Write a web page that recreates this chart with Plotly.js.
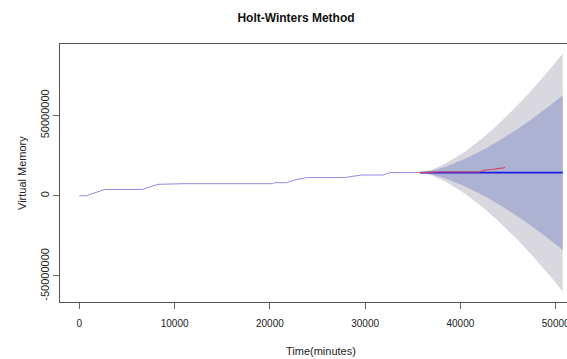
<!DOCTYPE html>
<html>
<head>
<meta charset="utf-8">
<script src="https://cdn.plot.ly/plotly-3.0.1.min.js"></script>
<style>
  html, body { margin: 0; padding: 0; overflow: hidden; background: #fff; }
  #chart { width: 600px; height: 359px; }
</style>
</head>
<body>
<div id="chart"></div>
<script>
// Observed series (minutes, bytes of virtual memory)
const histX = [0, 740, 2660, 6620, 8260, 11060, 20300, 20500, 21740, 22610, 23840, 27860, 29620, 31890, 32590, 35740];
const histY = [0, 0, 3.9e6, 3.9e6, 7.1e6, 7.5e6, 7.5e6, 8.1e6, 8.1e6, 9.8e6, 11.3e6, 11.3e6, 12.9e6, 12.9e6, 14.4e6, 14.4e6];

// Holt-Winters forecast horizon with 80% and 95% intervals
const fcX    = [35740, 37000, 38500, 40500, 42500, 44000, 46000, 47500, 49500, 50740];
const fcMean = [14.4e6, 14.4e6, 14.4e6, 14.4e6, 14.4e6, 14.4e6, 14.4e6, 14.4e6, 14.4e6, 14.4e6];
const hi95   = [14.4e6, 16.2e6, 20.2e6, 27.6e6, 36.8e6, 44.7e6, 56.3e6, 65.8e6, 79.5e6, 88.5e6];
const lo95   = [14.4e6, 12.6e6, 8.6e6, 1.2e6, -8.0e6, -15.9e6, -27.5e6, -37.0e6, -50.7e6, -59.7e6];
const hi80   = [14.4e6, 15.6e6, 18.2e6, 23.0e6, 29.0e6, 34.1e6, 41.6e6, 47.8e6, 56.7e6, 62.6e6];
const lo80   = [14.4e6, 13.2e6, 10.6e6, 5.8e6, -0.2e6, -5.3e6, -12.8e6, -19.0e6, -27.9e6, -33.8e6];

// Actual values over the forecast period
const actX = [35740, 37840, 42040, 42570, 43440, 43970, 44670];
const actY = [14.4e6, 14.8e6, 14.8e6, 16.0e6, 16.5e6, 17.1e6, 17.5e6];

// Axis ticks
const xTicks = [0, 10000, 20000, 30000, 40000, 50000];
const xTickText = ["0", "10000", "20000", "30000", "40000", "50000"];
const yTicks = [-5e7, 0, 5e7];
const yTickText = ["-50000000", "0", "50000000"];

const FONT = '"Liberation Sans", Arial, sans-serif';

function band(x, hi, lo) {
  return {
    x: x.concat(x.slice().reverse()),
    y: hi.concat(lo.slice().reverse())
  };
}

const b95 = band(fcX, hi95, lo95);
const b80 = band(fcX, hi80, lo80);

const traces = [
  { x: b95.x, y: b95.y, type: 'scatter', mode: 'lines', fill: 'toself',
    fillcolor: '#d8d8de', line: { width: 0 }, hoverinfo: 'skip' },
  { x: b80.x, y: b80.y, type: 'scatter', mode: 'lines', fill: 'toself',
    fillcolor: '#adb2d2', line: { width: 0 }, hoverinfo: 'skip' },
  { x: histX, y: histY, type: 'scatter', mode: 'lines',
    line: { color: '#8c8cde', width: 1 } },
  { x: fcX, y: fcMean, type: 'scatter', mode: 'lines',
    line: { color: '#1a1ae6', width: 1.8 } },
  { x: actX, y: actY, type: 'scatter', mode: 'lines',
    line: { color: '#d2405c', width: 1.1 } }
];

const plotL = 60, plotR = 582;
const layout = {
  width: 600, height: 359,
  margin: { l: plotL, r: 600 - plotR, t: 44, b: 57 },
  paper_bgcolor: '#fff', plot_bgcolor: '#fff',
  showlegend: false,
  font: { family: FONT, color: '#222', size: 11 },
  title: {
    text: '<b>Holt-Winters Method</b>',
    font: { family: FONT, size: 12, color: '#111' },
    xref: 'container', x: 296 / 600, xanchor: 'center',
    yref: 'container', y: 1 - 18 / 359, yanchor: 'middle'
  },
  xaxis: {
    range: [-2029, 52764],
    tickvals: xTicks, ticktext: xTickText,
    ticks: 'outside', ticklen: 6, tickcolor: '#666', tickwidth: 1,
    ticklabelstandoff: 6,
    showline: true, linecolor: '#555', linewidth: 1, mirror: true,
    showgrid: false, zeroline: false,
    tickfont: { family: FONT, size: 10, color: '#222' }
  },
  yaxis: {
    range: [-66.2e6, 94.5e6],
    tickvals: yTicks, ticktext: yTickText, tickangle: -90,
    ticks: 'outside', ticklen: 6, tickcolor: '#666', tickwidth: 1,
    showline: true, linecolor: '#555', linewidth: 1, mirror: true,
    showgrid: false, zeroline: false,
    tickfont: { family: FONT, size: 11, color: '#222' }
  },
  annotations: [
    { text: 'Time(minutes)', xref: 'paper', yref: 'paper',
      x: (321 - plotL) / (plotR - plotL), y: -(351 - 302) / (302 - 44),
      xanchor: 'center', yanchor: 'middle', showarrow: false,
      font: { family: FONT, size: 11, color: '#222' } },
    { text: 'Virtual Memory', xref: 'paper', yref: 'paper',
      x: -(60 - 22) / (plotR - plotL), y: (302 - 173) / (302 - 44),
      xanchor: 'center', yanchor: 'middle', textangle: -90, showarrow: false,
      font: { family: FONT, size: 11, color: '#222' } }
  ]
};

Plotly.newPlot('chart', traces, layout, { displayModeBar: false, staticPlot: true });
</script>
</body>
</html>
